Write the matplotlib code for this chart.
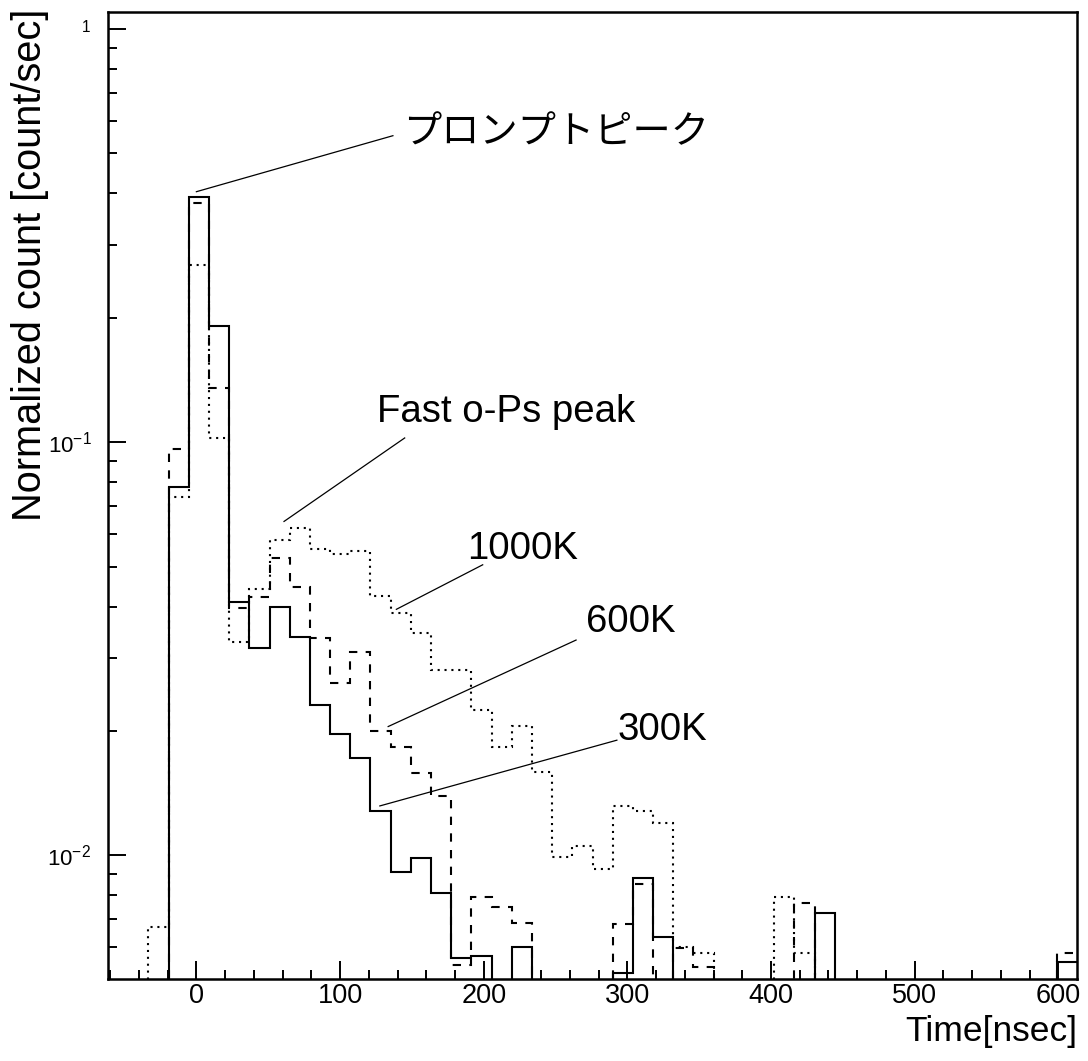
import numpy as np
import matplotlib
matplotlib.use("Agg")
import matplotlib.pyplot as plt
from matplotlib.ticker import MultipleLocator, LogLocator, NullFormatter

plt.rcParams['font.family'] = ['Liberation Sans', 'Noto Sans CJK JP', 'DejaVu Sans']
plt.rcParams['mathtext.fontset'] = 'custom'
plt.rcParams['mathtext.rm'] = 'Liberation Sans'
plt.rcParams['mathtext.it'] = 'Liberation Sans:italic'

# histogram binning (48 bins, ~14 ns each)
T_LO, T_HI, N_BINS = -61.5, 613.0, 48

# normalized counts per bin (0 = below the axis)
k300 = [0, 0, 0, 0.078, 0.392, 0.191, 0.0411, 0.0317, 0.0400, 0.0337,
        0.0231, 0.0197, 0.0172, 0.0128, 0.00912, 0.00983, 0.00809, 0.00565, 0.00570, 0,
        0.00601, 0, 0, 0, 0, 0.0052, 0.00883, 0.00633, 0, 0,
        0, 0, 0, 0, 0, 0.00726, 0, 0, 0, 0,
        0, 0, 0, 0, 0, 0, 0, 0.00553]
k600 = [0, 0, 0, 0.0962, 0.379, 0.135, 0.0396, 0.0421, 0.0524, 0.0447,
        0.0335, 0.0262, 0.0311, 0.0200, 0.0183, 0.0158, 0.0139, 0.00543, 0.00794, 0.0075,
        0.00684, 0, 0, 0, 0, 0.00681, 0.00854, 0, 0.00598, 0.00536,
        0, 0, 0, 0, 0.00766, 0, 0, 0, 0, 0,
        0, 0, 0, 0, 0, 0, 0, 0.0058]
k1000 = [0, 0, 0.00671, 0.0736, 0.269, 0.1026, 0.0329, 0.0442, 0.058, 0.0619,
         0.0551, 0.0536, 0.0546, 0.0425, 0.0385, 0.0346, 0.0281, 0.0281, 0.0225, 0.0183,
         0.0206, 0.0159, 0.00989, 0.01055, 0.00925, 0.01318, 0.01282, 0.01195, 0.0060, 0.0058,
         0, 0, 0, 0.00792, 0.00581, 0, 0, 0, 0, 0,
         0, 0, 0, 0, 0, 0, 0, 0]

# labels: text, text position (x, y), leader line start, leader line end
labels = [
    ("プロンプトピーク", (144, 0.560), (0, 0.404), (136.8, 0.552)),
    ("Fast o-Ps peak", (125.5, 0.112), (61, 0.0643), (145, 0.1024)),
    ("1000K", (188.5, 0.0522), (139.2, 0.0394), (199.3, 0.0505)),
    ("600K", (271.5, 0.0348), (133.5, 0.0205), (264.3, 0.0332)),
    ("300K", (293, 0.0190), (127.7, 0.01317), (292.7, 0.0190)),
]

edges = np.linspace(T_LO, T_HI, N_BINS + 1)

fig = plt.figure(figsize=(10.88, 10.61), dpi=100)
ax = fig.add_axes([0.0993, 0.0773, 0.8906, 0.9114])

styles = [(k300, '-'), (k600, (0, (4, 4))), (k1000, (0, (1, 2.3)))]
for vals, ls in styles:
    v = np.array(vals, dtype=float)
    v = np.where(v > 0, v, 1e-4)
    ax.stairs(v, edges, baseline=None, color='black', linewidth=1.5, linestyle=ls)

ax.set_yscale('log')
ax.set_xlim(T_LO, T_HI)
ax.set_ylim(0.00502, 1.10)

ax.xaxis.set_major_locator(MultipleLocator(100))
ax.xaxis.set_minor_locator(MultipleLocator(20))
ax.set_yticks([0.01, 0.1, 1])
ax.set_yticklabels([r'$\mathregular{10^{-2}}$', r'$\mathregular{10^{-1}}$', r'$\mathregular{^{1}}$'])
ax.yaxis.set_minor_locator(LogLocator(base=10, subs=np.arange(2, 10)))
ax.yaxis.set_minor_formatter(NullFormatter())

ax.tick_params(which='both', direction='in', top=False, right=False, width=1.4)
ax.tick_params(which='major', length=13)
ax.tick_params(which='minor', length=6.5)
ax.tick_params(axis='x', labelsize=19.5, pad=3)
ax.tick_params(axis='y', labelsize=16, pad=12)
for s in ax.spines.values():
    s.set_linewidth(1.8)

for txt, tpos, p0, p1 in labels:
    ax.plot([p0[0], p1[0]], [p0[1], p1[1]], color='black', linewidth=0.9)
    if txt.isascii():
        ax.text(tpos[0], tpos[1], txt, fontsize=27.6, ha='left', va='baseline')
    else:
        ax.text(tpos[0], tpos[1], txt, fontsize=27.5, ha='left', va='center')

ax.text(1.0, -0.064, 'Time[nsec]', transform=ax.transAxes, fontsize=25.5,
        ha='right', va='baseline')
ax.text(-0.069, 1.003, 'Normalized count [count/sec]', transform=ax.transAxes,
        fontsize=28.6, rotation=90, rotation_mode='anchor', ha='right', va='baseline')

fig.savefig('out.png', dpi=100)
